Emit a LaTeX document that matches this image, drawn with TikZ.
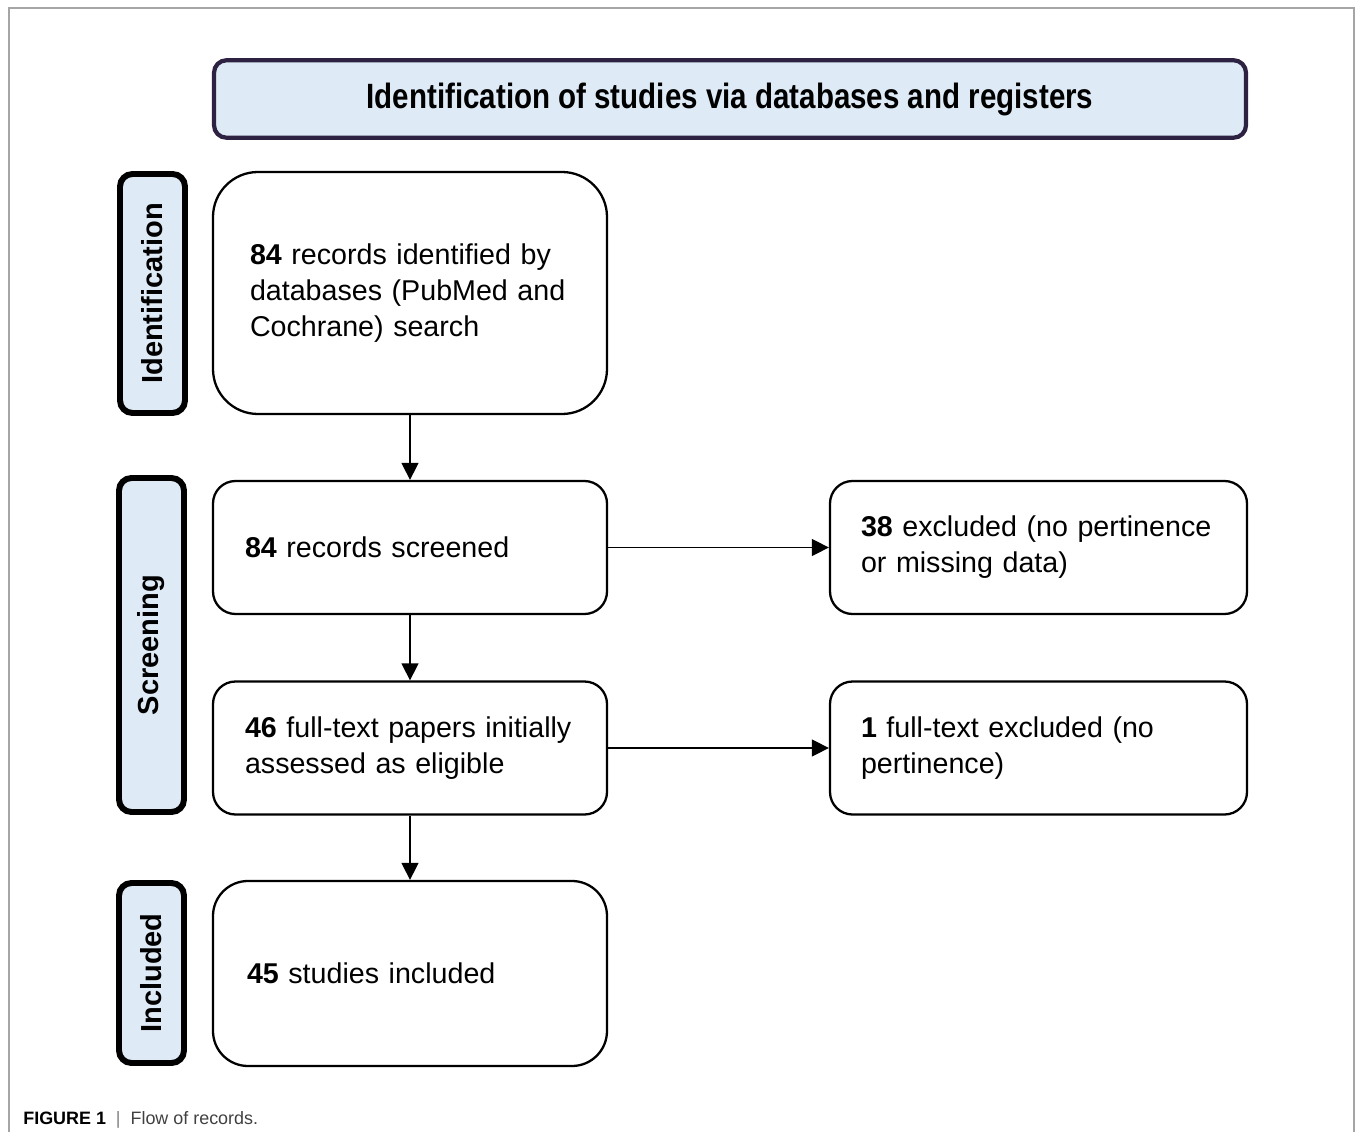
\documentclass[tikz,border=0pt]{standalone}
\usepackage{fontspec}
\setmainfont{Liberation Sans}
\newfontfamily\headfont[FakeStretch=0.84]{Liberation Sans}
\definecolor{headblue}{RGB}{222,234,246}
\definecolor{headedge}{RGB}{46,34,66}
\definecolor{framegray}{RGB}{165,165,165}
\usetikzlibrary{arrows.meta}
\hyphenpenalty=10000
\exhyphenpenalty=10000

\begin{document}
\begin{tikzpicture}[
    box/.style={draw, line width=1.3pt, align=left, inner ysep=0.2cm,
      font=\fontsize{16.3}{20.5}\selectfont},
    mainbox/.style={box, text width=6.6cm, inner xsep=0.64cm, minimum height=2.66cm, rounded corners=0.45cm},
    sidebox/.style={box, text width=7.1cm, inner xsep=0.62cm, minimum height=2.66cm, rounded corners=0.45cm},
    phase/.style={draw, line width=3.4pt, fill=headblue, rotate=90, rounded corners=0.25cm,
      minimum height=1.3cm, inner sep=0pt, font=\fontsize{16.5}{20}\selectfont\bfseries},
    arr/.style={line width=0.8pt, -{Triangle[length=0.34cm,width=0.34cm]}},
]
    \useasboundingbox (0,0) rectangle (27.1,-22.64);
    \draw[framegray, line width=1.1pt] (0.18,-22.64) -- (0.18,-0.16) -- (27.08,-0.16) -- (27.08,-22.64);

    % header
    \node[draw=headedge, line width=2.4pt, fill=headblue, rounded corners=0.25cm,
      minimum width=20.64cm, minimum height=1.55cm, font=\headfont\fontsize{20}{24}\selectfont\bfseries]
      (head) at (14.6,-1.98) {Identification of studies via databases and registers};

    % phase labels
    \node[phase, minimum width=4.78cm] (idlab) at (3.05,-5.87) {Identification};
    \node[phase, minimum width=6.68cm] (scrlab) at (3.03,-12.9) {Screening};
    \node[phase, minimum width=3.6cm] (inclab) at (3.03,-19.46) {Included};

    % main flow
    \node[mainbox, text width=6.4cm, inner xsep=0.74cm, minimum height=4.84cm, rounded corners=0.9cm]
      (rec) at (8.2,-5.86) {\textbf{84} records identified by databases (PubMed and Cochrane) search};
    \node[mainbox] (scr) at (8.2,-10.95) {\textbf{84} records screened};
    \node[mainbox] (full) at (8.2,-14.96) {\textbf{46} full-text papers initially assessed as eligible};
    \node[mainbox, minimum height=3.7cm, rounded corners=0.7cm] (inc) at (8.2,-19.47) {\hspace{0.04cm}\textbf{45} studies included};

    % exclusions
    \node[sidebox] (exc1) at (20.77,-10.95) {\textbf{38} excluded (no pertinence or missing data)};
    \node[sidebox] (exc2) at (20.77,-14.96) {\textbf{1} full-text excluded (no pertinence)};

    \draw[arr] (rec) -- (scr);
    \draw[arr] (scr) -- (full);
    \draw[arr] (full) -- (inc);
    \draw[arr] (scr) -- (exc1);
    \draw[arr] (full) -- (exc2);

    % caption
    \node[anchor=base west, inner sep=0pt, font=\fontsize{10.2}{12}\selectfont]
      (cap) at (0.46,-22.48) {\textbf{FIGURE 1}\ \ \textcolor{gray}{|}\ \ \textcolor{black!75}{Flow of records.}};
\end{tikzpicture}
\end{document}
